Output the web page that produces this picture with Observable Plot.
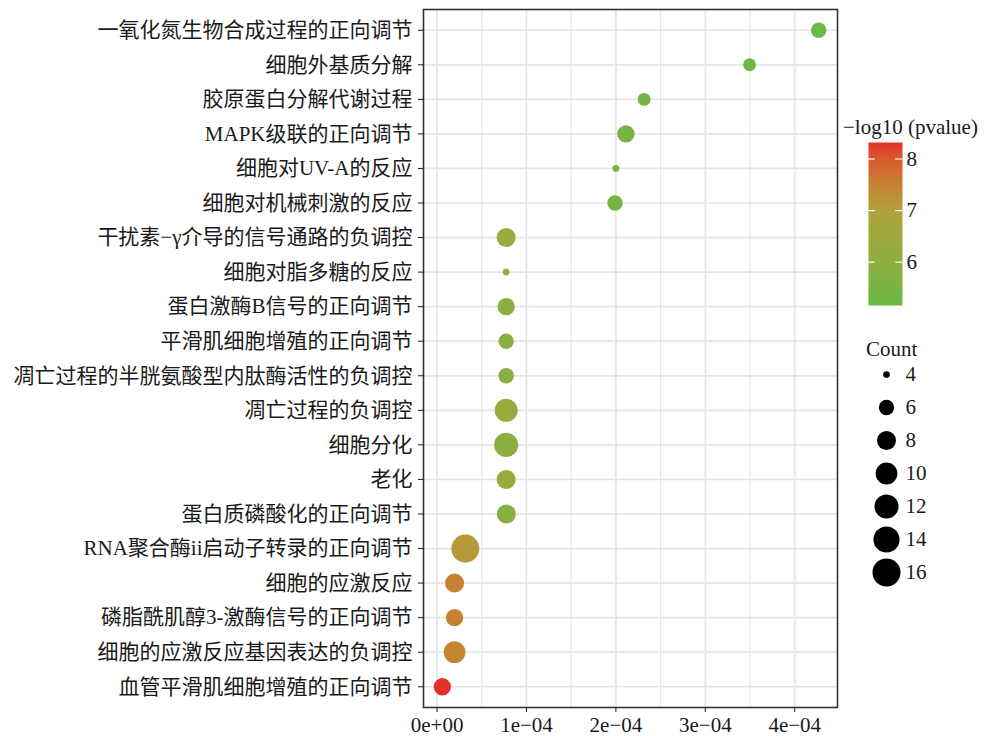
<!DOCTYPE html>
<html>
<head>
<meta charset="utf-8">
<script src="https://cdn.jsdelivr.net/npm/d3@7"></script>
<script src="https://cdn.jsdelivr.net/npm/@observablehq/plot@0.6"></script>
<style>
  html, body { margin: 0; padding: 0; background: #fff; }
  #wrap { position: relative; width: 984px; height: 736px; font-family: "Liberation Serif", "Noto Sans CJK SC", serif; color: #1a1a1a; }
  .abs { position: absolute; }
  .ttl { font-size: 21px; line-height: 24px; white-space: nowrap; }
</style>
</head>
<body>
<div id="wrap"></div>
<script>
// ---- data ----
const terms = [
  "一氧化氮生物合成过程的正向调节",
  "细胞外基质分解",
  "胶原蛋白分解代谢过程",
  "MAPK级联的正向调节",
  "细胞对UV-A的反应",
  "细胞对机械刺激的反应",
  "干扰素−γ介导的信号通路的负调控",
  "细胞对脂多糖的反应",
  "蛋白激酶B信号的正向调节",
  "平滑肌细胞增殖的正向调节",
  "凋亡过程的半胱氨酸型内肽酶活性的负调控",
  "凋亡过程的负调控",
  "细胞分化",
  "老化",
  "蛋白质磷酸化的正向调节",
  "RNA聚合酶ii启动子转录的正向调节",
  "细胞的应激反应",
  "磷脂酰肌醇3-激酶信号的正向调节",
  "细胞的应激反应基因表达的负调控",
  "血管平滑肌细胞增殖的正向调节"
];
const pvalues = [4.268e-4, 3.495e-4, 2.316e-4, 2.112e-4, 2.0e-4, 1.99e-4,
  7.73e-5, 7.73e-5, 7.73e-5, 7.73e-5, 7.73e-5, 7.73e-5, 7.73e-5, 7.73e-5, 7.75e-5,
  3.16e-5, 1.96e-5, 1.96e-5, 1.96e-5, 5.9e-6];
const counts = [6, 5, 5, 7, 4, 6, 8, 4, 7, 6, 6, 11, 12, 8, 8, 16, 8, 7, 10, 7];
const logp = [5.16, 5.25, 5.35, 5.4, 5.5, 5.45, 6.5, 5.95, 5.9, 5.85, 5.85, 6.3, 6.0, 6.3, 5.8, 7.15, 7.5, 7.5, 7.45, 8.32];

const xTicks = [0, 1e-4, 2e-4, 3e-4, 4e-4];
const xMinorTicks = [0.5e-4, 1.5e-4, 2.5e-4, 3.5e-4];
const legendCounts = [4, 6, 8, 10, 12, 14, 16];
const colorTicks = [6, 7, 8];

// colour ramp: green -> olive -> red (olive at 7)
const colorRange = ["#6ab845", "#aea23b", "#e2312a"];
const colorMidValue = 7;

const rows = terms.map((t, i) => ({term: t, pvalue: pvalues[i], count: counts[i], logp: logp[i]}));

// ---- scales shared ----
const cMin = d3.min(counts), cMax = d3.max(counts);
const rScale = {type: "linear", transform: c => Math.sqrt((c - cMin) / (cMax - cMin)), range: [3.35, 14]};
const colorExtent = d3.extent(logp);
const colorScale = {type: "linear", domain: [colorExtent[0], colorMidValue, colorExtent[1]], range: colorRange, interpolate: "lab"};

const [xlo, xhi] = d3.extent(pvalues);
const xpad = (xhi - xlo) * 0.05;

function sci(v) {
  if (v === 0) return "0e+00";
  const [m, e] = v.toExponential(0).split("e");
  const n = +e;
  return m + "e" + (n < 0 ? "−" : "+") + String(Math.abs(n)).padStart(2, "0");
}

const font = '"Liberation Serif", "Noto Sans CJK SC", serif';

const main = Plot.plot({
  width: 984,
  height: 736,
  marginLeft: 423,
  marginRight: 147,
  marginTop: 9,
  marginBottom: 29,
  style: {fontFamily: font, fontSize: "21px", color: "#1a1a1a", background: "#fff"},
  x: {domain: [xlo - xpad, xhi + xpad]},
  y: {type: "point", domain: terms, padding: 0.6, round: false},
  r: rScale,
  color: colorScale,
  marks: [
    Plot.gridX({ticks: xMinorTicks, stroke: "#e8e8e8", strokeOpacity: 1, strokeWidth: 1.2}),
    Plot.gridX({ticks: xTicks, stroke: "#e5e5e5", strokeOpacity: 1, strokeWidth: 1.7}),
    Plot.gridY({stroke: "#e5e5e5", strokeOpacity: 1, strokeWidth: 1.7}),
    Plot.dot(rows, {x: "pvalue", y: "term", r: "count", fill: "logp"}),
    Plot.frame({stroke: "#333", strokeWidth: 1.6}),
    Plot.axisX({ticks: xTicks, tickFormat: sci, tickSize: 5, tickPadding: 5, fontSize: 21, label: null}),
    Plot.axisY({tickSize: 5, tickPadding: 6, fontSize: 21, label: null})
  ]
});
main.style.position = "absolute";
main.style.left = "0px";
main.style.top = "0px";

const wrap = document.getElementById("wrap");
wrap.appendChild(main);

// ---- colour bar legend ----
const cbTitle = document.createElement("div");
cbTitle.className = "abs ttl";
cbTitle.style.left = "843px";
cbTitle.style.top = "115px";
cbTitle.textContent = "−log10 (pvalue)";
wrap.appendChild(cbTitle);

const cb = Plot.plot({
  width: 90,
  height: 180,
  marginLeft: 6,
  marginRight: 50,
  marginTop: 12,
  marginBottom: 5,
  style: {fontFamily: font, fontSize: "21px", color: "#1a1a1a", background: "transparent"},
  x: {domain: [0, 1], axis: null},
  y: {domain: colorExtent},
  color: colorScale,
  marks: [
    Plot.raster({x1: 0, x2: 1, y1: colorExtent[0], y2: colorExtent[1], fill: (x, y) => y, pixelSize: 1}),
    Plot.ruleY(colorTicks, {x1: 0, x2: 0.2, stroke: "white", strokeWidth: 1.2}),
    Plot.ruleY(colorTicks, {x1: 0.8, x2: 1, stroke: "white", strokeWidth: 1.2}),
    Plot.axisY({ticks: colorTicks, tickFormat: d => String(d), anchor: "right", tickSize: 0, tickPadding: 4, fontSize: 21, label: null})
  ]
});
cb.style.position = "absolute";
cb.style.left = "862px";
cb.style.top = "130px";
wrap.appendChild(cb);

// ---- size legend ----
const szTitle = document.createElement("div");
szTitle.className = "abs ttl";
szTitle.style.left = "866px";
szTitle.style.top = "337px";
szTitle.textContent = "Count";
wrap.appendChild(szTitle);

const sz = Plot.plot({
  width: 110,
  height: 230,
  marginLeft: 36,
  marginRight: 10,
  marginTop: 16,
  marginBottom: 16,
  style: {fontFamily: font, fontSize: "21px", color: "#1a1a1a", background: "transparent"},
  y: {type: "point", domain: legendCounts, axis: null, padding: 0, round: false},
  r: rScale,
  marks: [
    Plot.dot(legendCounts, {y: d => d, r: d => d, fill: "black", frameAnchor: "left"}),
    Plot.text(legendCounts, {y: d => d, text: d => String(d), frameAnchor: "left", dx: 19, textAnchor: "start", fontSize: 21})
  ]
});
sz.style.position = "absolute";
sz.style.left = "850px";
sz.style.top = "358px";
wrap.appendChild(sz);
</script>
</body>
</html>
